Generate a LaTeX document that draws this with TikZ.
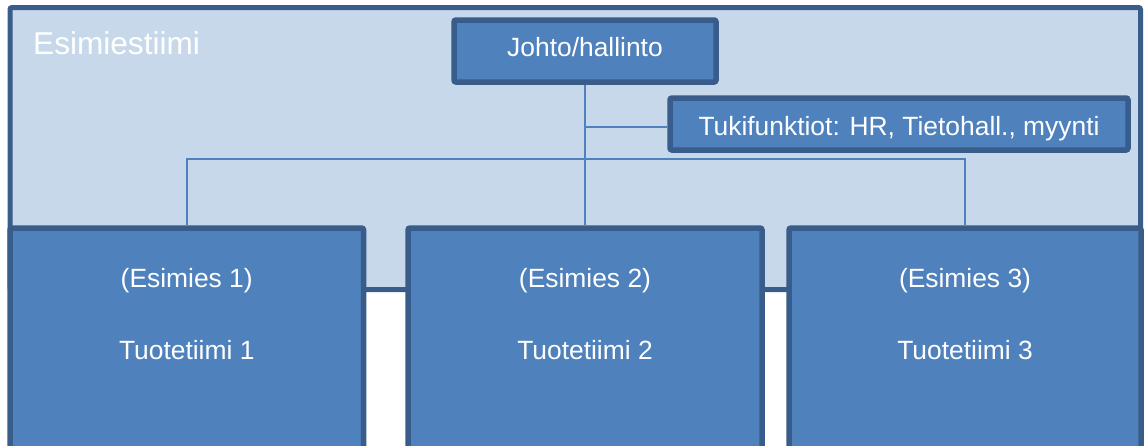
\documentclass[tikz,border=0pt]{standalone}
\usepackage{fontspec}
\setmainfont{Liberation Sans}
\definecolor{lightfill}{HTML}{C8D8EB}
\definecolor{boxfill}{HTML}{4F81BD}
\definecolor{boxline}{HTML}{385D8A}
\definecolor{connc}{HTML}{4F81BD}
\begin{document}
\begin{tikzpicture}[x=1pt,y=-1pt,
  panel/.style={draw=boxline, fill=lightfill, line width=5pt, rounded corners=2pt, inner sep=0pt},
  unit/.style={draw=boxline, fill=boxfill, line width=5.5pt, rounded corners=2pt, inner sep=0pt,
    text=white, font=\fontsize{26.4}{31}\selectfont},
  txt/.style={text=white, font=\fontsize{26.4}{31}\selectfont, inner sep=0pt, anchor=base},
  conn/.style={draw=connc, line width=2.2pt}]
\useasboundingbox (0,0) rectangle (1144,445);
\clip (0,0) rectangle (1144,445);

% outer team panel
\node[panel, minimum width=1130.5pt, minimum height=282pt] (es) at (575.25,148.5) {};
\node[txt, anchor=base west, font=\fontsize{31.6}{36}\selectfont] (estxt) at (33,54.3) {Esimiestiimi};

% management and support
\node[unit, minimum width=262pt, minimum height=62pt, text height=19.4pt, text depth=9.4pt] (jh) at (585,51) {Johto/hallinto};
\node[unit, minimum width=458pt, minimum height=52pt, text height=22pt, text depth=0pt] (tk) at (899,124) {Tukifunktiot: HR, Tietohall., myynti};

% product teams
\node[unit, minimum width=353.5pt, minimum height=224pt] (b1) at (186.75,340) {};
\node[unit, minimum width=354pt, minimum height=224pt] (b2) at (585,340) {};
\node[unit, minimum width=352pt, minimum height=224pt] (b3) at (965,340) {};

\node[txt] (b1a) at ([yshift=-62pt]b1.north) {(Esimies 1)};
\node[txt] (b1b) at ([yshift=-134pt]b1.north) {Tuotetiimi 1};
\node[txt] (b2a) at ([yshift=-62pt]b2.north) {(Esimies 2)};
\node[txt] (b2b) at ([yshift=-134pt]b2.north) {Tuotetiimi 2};
\node[txt] (b3a) at ([yshift=-62pt]b3.north) {(Esimies 3)};
\node[txt] (b3b) at ([yshift=-134pt]b3.north) {Tuotetiimi 3};

% connectors
\coordinate (tj) at (585,127);
\coordinate (bus) at (585,159);
\draw[conn] (jh.south) -- (b2.north);
\draw[conn] (tj) -- (tj -| tk.west);
\draw[conn] (b1.north) -- (b1.north |- bus) -- (b3.north |- bus) -- (b3.north);
\end{tikzpicture}
\end{document}
